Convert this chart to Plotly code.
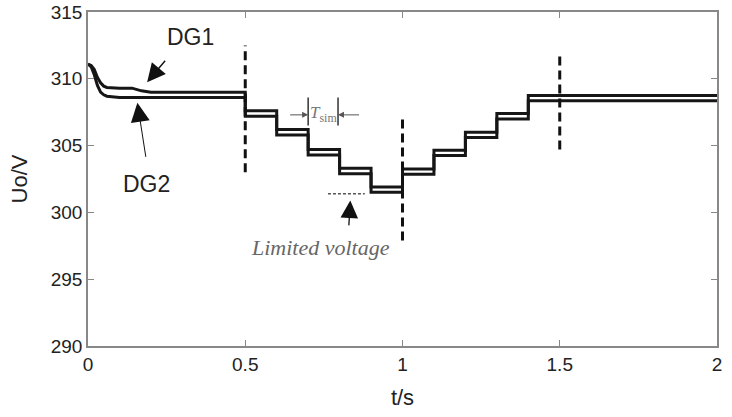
import plotly.graph_objects as go

# ---------------- data ----------------
# start-up transient (t in s, voltage in V)
t_start = [0.0, 0.01, 0.02, 0.03, 0.04, 0.05, 0.06, 0.08, 0.10, 0.14, 0.17, 0.20]
dg1_start = [311.1, 311.0, 310.7, 310.1, 309.7, 309.45, 309.35, 309.3, 309.3, 309.3, 309.1, 309.0]
dg2_start = [311.1, 310.9, 310.3, 309.5, 309.0, 308.8, 308.7, 308.65, 308.6, 308.6, 308.6, 308.6]

# step changes: time of step and new level
t_steps = [0.5, 0.6, 0.7, 0.8, 0.9, 1.0, 1.1, 1.2, 1.3, 1.4]
dg1_levels = [307.6, 306.2, 304.7, 303.3, 301.9, 303.25, 304.65, 306.0, 307.4, 308.75]
dg2_levels = [307.2, 305.8, 304.3, 302.9, 301.5, 302.85, 304.25, 305.6, 307.0, 308.35]
t_end = 2.0

# dashed event markers
vline_t = [0.5, 1.0, 1.5]
vline_lo = [303.0, 297.9, 304.7]
vline_hi = [312.5, 307.1, 312.0]

# limited voltage marker
limit_t = [0.763, 0.88]
limit_v = [301.4, 301.4]

# T_sim interval
tsim_t = [0.70, 0.795]
tsim_v = [306.5, 308.6]

x_ticks = [0, 0.5, 1, 1.5, 2]
x_ticklabels = ["0", "0.5", "1", "1.5", "2"]
y_ticks = [290, 295, 300, 305, 310, 315]
y_ticklabels = ["290", "295", "300", "305", "310", "315"]


def build(t0, v0, levels):
    xs, ys = list(t0), list(v0)
    prev = v0[-1]
    for t, lv in zip(t_steps, levels):
        xs += [t, t]
        ys += [prev, lv]
        prev = lv
    xs.append(t_end)
    ys.append(prev)
    return xs, ys


fig = go.Figure()

x1, y1 = build(t_start, dg1_start, dg1_levels)
x2, y2 = build(t_start, dg2_start, dg2_levels)
for xs, ys, nm in [(x1, y1, "DG1"), (x2, y2, "DG2")]:
    fig.add_trace(go.Scatter(x=xs, y=ys, mode="lines", name=nm,
                             line=dict(color="#161616", width=3),
                             showlegend=False, hoverinfo="skip"))

for t, lo, hi in zip(vline_t, vline_lo, vline_hi):
    fig.add_trace(go.Scatter(x=[t, t], y=[lo, hi], mode="lines",
                             line=dict(color="#111111", width=3, dash="9px,5px"),
                             showlegend=False, hoverinfo="skip"))

fig.add_trace(go.Scatter(x=limit_t, y=limit_v, mode="lines",
                         line=dict(color="#555555", width=1.5, dash="3px,2px"),
                         showlegend=False, hoverinfo="skip"))

for t in tsim_t:
    fig.add_trace(go.Scatter(x=[t, t], y=tsim_v, mode="lines",
                             line=dict(color="#333333", width=1.5),
                             showlegend=False, hoverinfo="skip"))

ann = []
# DG1
ann.append(dict(x=0.327, y=313.15, text="DG1", showarrow=False,
                font=dict(family="Arial", size=23, color="#222")))
ann.append(dict(x=0.188, y=309.75, ax=21, ay=-25, text=" ", showarrow=True,
                arrowhead=2, arrowsize=2.6, arrowwidth=1.4, arrowcolor="#111"))
# DG2
ann.append(dict(x=0.187, y=302.1, text="DG2", showarrow=False,
                font=dict(family="Arial", size=23, color="#222")))
ann.append(dict(x=0.157, y=308.2, ax=10, ay=64, text=" ", showarrow=True,
                arrowhead=2, arrowsize=3.8, arrowwidth=1.0, arrowcolor="#111"))
# T_sim
ann.append(dict(x=0.7475, y=307.4, text="<i>T</i><sub>sim</sub>", showarrow=False,
                font=dict(family="Liberation Serif", size=17, color="#777")))
ann.append(dict(x=tsim_t[0], y=307.3, ax=-21, ay=0, text=" ", showarrow=True,
                arrowhead=2, arrowsize=1.2, arrowwidth=1, arrowcolor="#555"))
ann.append(dict(x=tsim_t[1], y=307.3, ax=24, ay=0, text=" ", showarrow=True,
                arrowhead=2, arrowsize=1.2, arrowwidth=1, arrowcolor="#555"))
# Limited voltage
ann.append(dict(x=0.834, y=300.9, ax=-2, ay=35, text=" ", showarrow=True,
                arrowhead=2, arrowsize=2.7, arrowwidth=1.3, arrowcolor="#111"))
ann.append(dict(x=0.738, y=297.35, text="<i>Limited voltage</i>", showarrow=False,
                font=dict(family="Liberation Serif", size=22, color="#666")))

fig.update_layout(
    width=732, height=417,
    margin=dict(l=88, r=15, t=12, b=71),
    paper_bgcolor="white", plot_bgcolor="white",
    annotations=ann,
    xaxis=dict(range=[0, 2], tickvals=x_ticks, ticktext=x_ticklabels,
               ticks="inside", ticklen=6, tickcolor="#888", mirror="ticks",
               showline=True, linecolor="#888", linewidth=1.5, showgrid=False,
               zeroline=False, automargin=False,
               tickfont=dict(family="Arial", size=19, color="#222"),
               title=dict(text="t/s", font=dict(family="Arial", size=22, color="#222"),
                          standoff=16)),
    yaxis=dict(range=[290, 315], tickvals=y_ticks, ticktext=y_ticklabels,
               ticks="inside", ticklen=6, tickcolor="#888", mirror="ticks",
               showline=True, linecolor="#888", linewidth=1.5, showgrid=False,
               zeroline=False, automargin=False,
               tickfont=dict(family="Arial", size=19, color="#222"),
               title=dict(text="Uo/V", font=dict(family="Arial", size=22, color="#222"),
                          standoff=17)),
)

fig.write_html("out.html")
